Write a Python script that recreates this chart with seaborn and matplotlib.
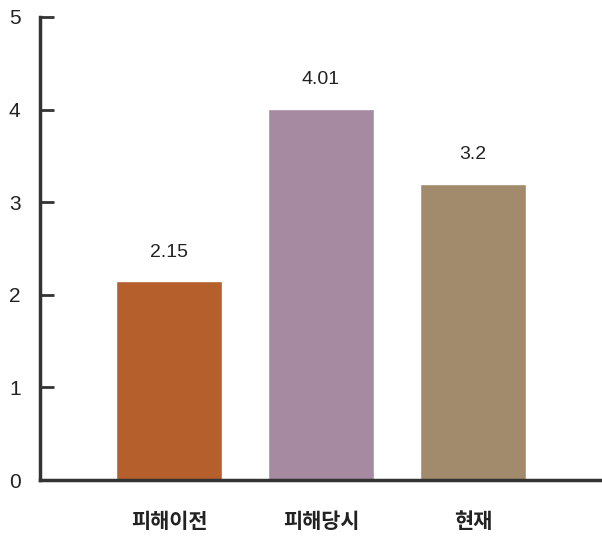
import matplotlib
matplotlib.use("Agg")
import matplotlib.pyplot as plt
import seaborn as sns
import pandas as pd

categories = ["피해이전", "피해당시", "현재"]
values = [2.15, 4.01, 3.2]
value_labels = ["2.15", "4.01", "3.2"]
colors = ["#B45F2C", "#A68AA1", "#A28B6C"]

sns.set_style("white")
plt.rcParams['font.family'] = ['Noto Sans CJK KR', 'DejaVu Sans']

df = pd.DataFrame({"cat": categories, "val": values})

fig = plt.figure(figsize=(6.02, 5.39), dpi=100)
ax = fig.add_axes([40/602, 1-480/539, 1-40/602, (480-17)/539])
sns.barplot(data=df, x="cat", y="val", hue="cat", palette=colors,
            width=0.7, legend=False, saturation=1, ax=ax)

for i, (v, lab) in enumerate(zip(values, value_labels)):
    ax.text(i, v + 0.22, lab, ha="center", va="bottom", fontsize=14,
            family=["Liberation Sans", "DejaVu Sans"], color="#222222")

ax.set_xlim(-0.85, 2.85)
ax.set_ylim(0, 5)
ax.set_yticks([0, 1, 2, 3, 4, 5])
ax.set_xlabel("")
ax.set_ylabel("")

for s in ["top", "right"]:
    ax.spines[s].set_visible(False)
for s in ["left", "bottom"]:
    ax.spines[s].set_linewidth(2.5)
    ax.spines[s].set_color("#333333")

ax.tick_params(axis="y", left=True, direction="in", length=10, width=2,
               color="#333333", labelsize=15, pad=14, labelcolor="#222222")
ax.tick_params(axis="x", bottom=False, length=0, pad=22, labelsize=15,
               labelcolor="#222222")
for t in ax.get_yticklabels():
    t.set_family(["Liberation Sans", "DejaVu Sans"])
for t in ax.get_xticklabels():
    t.set_fontweight("bold")

fig.savefig("out.png", dpi=100)
